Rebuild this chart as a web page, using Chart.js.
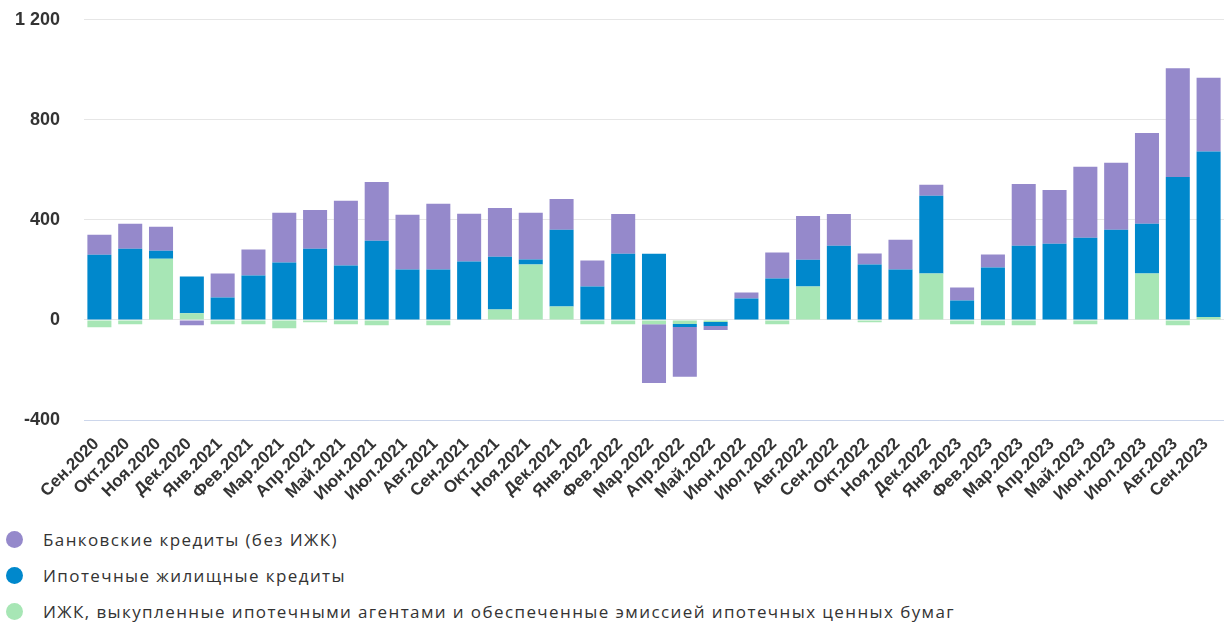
<!DOCTYPE html>
<html>
<head>
<meta charset="utf-8">
<script src="https://cdn.jsdelivr.net/npm/chart.js@4"></script>
<style>
  body { margin: 0; background: #fff; }
  #wrap { position: relative; width: 1224px; height: 624px; overflow: hidden; }
  #chartBox { position: absolute; left: 0; top: -15px; width: 1224px; height: 520px; }
  #legend { position: absolute; left: 6px; top: 521px; font-family: "Open Sans", sans-serif; font-size: 17px; letter-spacing: 1.4px; color: #333; }
  .lg-item { display: flex; align-items: center; height: 36px; }
  .lg-dot { width: 17px; height: 17px; border-radius: 50%; margin-right: 20px; }
</style>
</head>
<body>
<div id="wrap">
  <div id="chartBox"><canvas id="idCanv_credit"></canvas></div>
  <div id="legend"></div>
</div>
<script>
const months = [
  "Сен.2020", "Окт.2020", "Ноя.2020", "Дек.2020", "Янв.2021", "Фев.2021", "Мар.2021", "Апр.2021", "Май.2021",
  "Июн.2021", "Июл.2021", "Авг.2021", "Сен.2021", "Окт.2021", "Ноя.2021", "Дек.2021", "Янв.2022", "Фев.2022",
  "Мар.2022", "Апр.2022", "Май.2022", "Июн.2022", "Июл.2022", "Авг.2022", "Сен.2022", "Окт.2022", "Ноя.2022",
  "Дек.2022", "Янв.2023", "Фев.2023", "Мар.2023", "Апр.2023", "Май.2023", "Июн.2023", "Июл.2023", "Авг.2023", "Сен.2023",
];

// ИЖК, выкупленные ипотечными агентами
const agentValues = [
  -29, -17, 245, 27, -17, -17, -33, -9, -17, -21, 0, -21, 0, 42, 222, 54, -17, -17,
  -17, -16, -8, 0, -17, 134, 0, -9, 0, 186, -17, -21, -21, 0, -17, 0, 186, -21, 12,
];
// Ипотечные жилищные кредиты
const mortgageValues = [
  261, 285, 32, 147, 90, 178, 230, 285, 218, 317, 202, 202, 234, 211, 20, 307, 134, 265,
  265, -12, -16, 86, 166, 107, 297, 222, 202, 311, 78, 210, 297, 305, 329, 361, 199, 572, 661,
];
// Банковские кредиты (без ИЖК)
const bankValues = [
  80, 100, 96, -21, 96, 104, 199, 155, 259, 235, 219, 263, 191, 195, 187, 123, 104, 159,
  -235, -199, -16, 24, 104, 175, 127, 44, 119, 44, 52, 52, 247, 215, 283, 267, 362, 434, 295,
];

const yTicks = { min: -400, max: 1200, step: 400 };

const colors = {
  bank: "#9589CB",
  mortgage: "#0088CC",
  agent: "#A7E6B5",
};

const tickFont = { family: "'Liberation Sans', Arial, sans-serif", weight: "bold" };

const creditChart = {
  config: {
    type: "bar",
    data: {
      labels: months,
      datasets: [
        { label: "ИЖК, выкупленные ипотечными агентами и обеспеченные эмиссией ипотечных ценных бумаг", data: agentValues, backgroundColor: colors.agent },
        { label: "Ипотечные жилищные кредиты", data: mortgageValues, backgroundColor: colors.mortgage },
        { label: "Банковские кредиты (без ИЖК)", data: bankValues, backgroundColor: colors.bank },
      ],
    },
    options: {
      responsive: true,
      maintainAspectRatio: false,
      animation: false,
      layout: { padding: 0 },
      datasets: {
        bar: { barPercentage: 0.78, categoryPercentage: 1 },
      },
      plugins: {
        legend: { display: false },
        tooltip: { enabled: false },
      },
      scales: {
        x: {
          stacked: true,
          afterFit: (scale) => {
            scale.height = 85;
            scale.paddingRight = 0;
          },
          grid: { display: false },
          border: { display: true, color: "#ccd6eb", width: 1 },
          ticks: {
            autoSkip: false,
            minRotation: 45,
            maxRotation: 45,
            padding: 6,
            labelOffset: -3,
            color: "#333333",
            font: { ...tickFont, size: 17 },
          },
        },
        y: {
          stacked: true,
          min: yTicks.min,
          max: yTicks.max,
          afterFit: (scale) => {
            scale.width = 84;
          },
          grid: { color: "#e6e6e6", lineWidth: 1, drawTicks: false },
          border: { display: false },
          ticks: {
            stepSize: yTicks.step,
            padding: 24,
            color: "#333333",
            font: { ...tickFont, size: 18 },
            callback: (value) => String(value).replace(/\B(?=(\d{3})+(?!\d))/g, " "),
          },
        },
      },
    },
  },
  canvas: null,
};

creditChart.canvas = new Chart(document.getElementById("idCanv_credit"), creditChart.config);

function buildLegend() {
  const box = document.getElementById("legend");
  const sets = creditChart.config.data.datasets.slice().reverse();
  for (const ds of sets) {
    const row = document.createElement("div");
    row.className = "lg-item";
    const dot = document.createElement("span");
    dot.className = "lg-dot";
    dot.style.background = ds.backgroundColor;
    const txt = document.createElement("span");
    txt.textContent = ds.label;
    row.appendChild(dot);
    row.appendChild(txt);
    box.appendChild(row);
  }
}
buildLegend();
</script>
</body>
</html>
